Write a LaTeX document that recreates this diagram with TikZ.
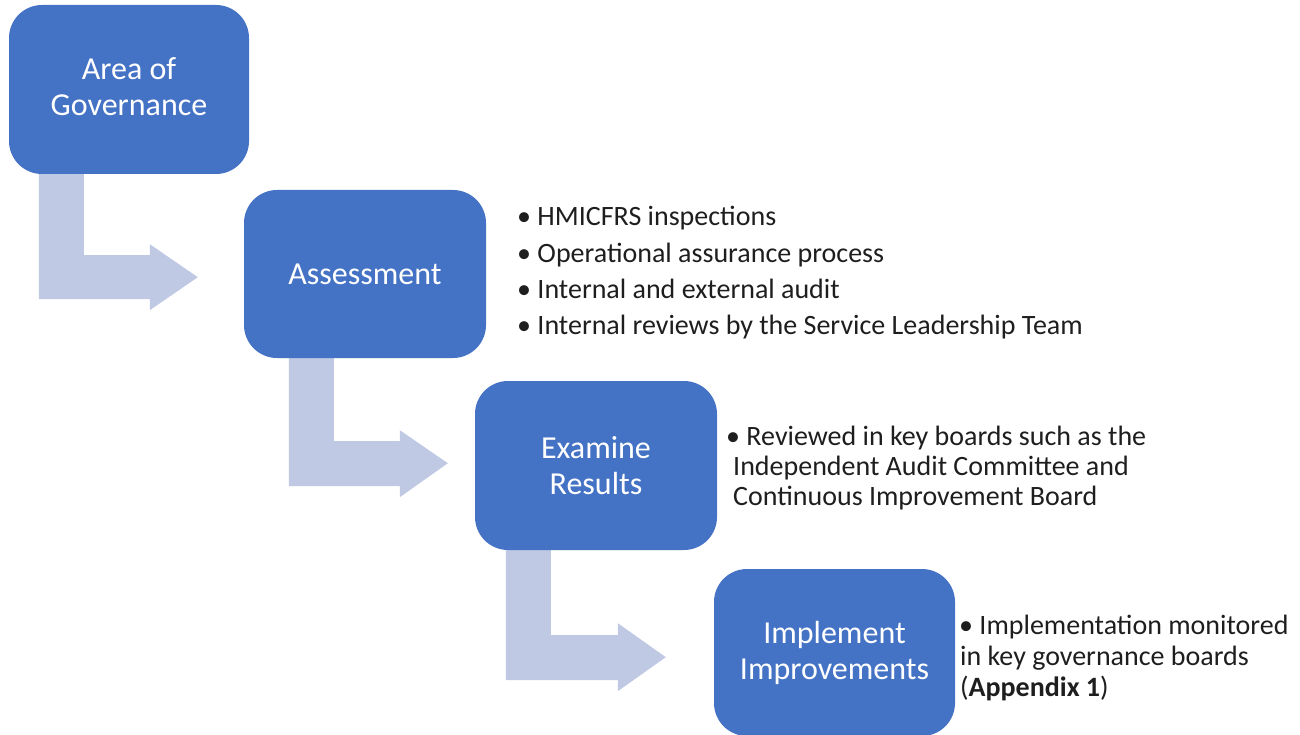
\documentclass[tikz,border=0pt]{standalone}
\usepackage{fontspec}
\setmainfont{Carlito}
\usetikzlibrary{calc}
\definecolor{boxblue}{HTML}{4472C4}
\definecolor{flowblue}{HTML}{BFC9E3}
\definecolor{notetext}{HTML}{1E1E1E}
\pgfdeclarelayer{bg}
\pgfsetlayers{bg,main}
\begin{document}
\begin{tikzpicture}[x=1pt,y=-1pt,
  stage/.style={rectangle, rounded corners=33pt, fill=boxblue, text=white,
    align=center, inner sep=0pt, font=\fontsize{32}{36}\selectfont},
  stagetext/.style={text=white, align=center, inner sep=0pt, font=\fontsize{32}{36}\selectfont},
  flow/.style={fill=flowblue},
  noteline/.style={anchor=base west, inner sep=0pt, text=notetext,
    font=\fontsize{28}{30}\selectfont},
]
\useasboundingbox (0,0) rectangle (1300,735);

\node[stage, minimum width=240pt, minimum height=169pt] (b1) at (129,89.5) {};
\node[stagetext] (b1t) at (129,86.5) {Area of\\Governance};
\node[stage, minimum width=242pt, minimum height=168pt] (b2) at (365,274) {Assessment};
\node[stage, minimum width=242pt, minimum height=169pt] (b3) at (596,465.5) {Examine\\Results};
\node[stage, minimum width=241pt, minimum height=167pt] (b4) at (834.5,652.5) {Implement\\Improvements};

\begin{pgfonlayer}{bg}
\fill[flow] ($(b1.south west)+(30,0)$) -- ++(0,125) -- ++(111,0) -- ++(0,11)
  -- ++(48,-33) -- ++(-48,-33) -- ++(0,11) -- ++(-66,0) -- ++(0,-81) -- cycle;
\fill[flow] ($(b2.south west)+(45,0)$) -- ++(0,128) -- ++(111,0) -- ++(0,11)
  -- ++(48,-34) -- ++(-48,-33) -- ++(0,11) -- ++(-66,0) -- ++(0,-83) -- cycle;
\fill[flow] ($(b3.south west)+(31,0)$) -- ++(0,130) -- ++(112,0) -- ++(0,11)
  -- ++(48,-34) -- ++(-48,-34) -- ++(0,12) -- ++(-67,0) -- ++(0,-85) -- cycle;
\end{pgfonlayer}

\node[noteline] (a1) at (517,226) {• HMICFRS inspections};
\node[noteline] (a2) at (517,262) {• Operational assurance process};
\node[noteline] (a3) at (517,298) {• Internal and external audit};
\node[noteline] (a4) at (517,334) {• Internal reviews by the Service Leadership Team};

\node[noteline] (e1) at (726,445) {• Reviewed in key boards such as the};
\node[noteline] (e2) at (733,475) {Independent Audit Committee and};
\node[noteline] (e3) at (733,505) {Continuous Improvement Board};

\node[noteline] (i1) at (959,634) {• Implementation monitored};
\node[noteline] (i2) at (960,665) {in key governance boards};
\node[noteline] (i3) at (960,696) {(\textbf{Appendix 1})};
\end{tikzpicture}
\end{document}
